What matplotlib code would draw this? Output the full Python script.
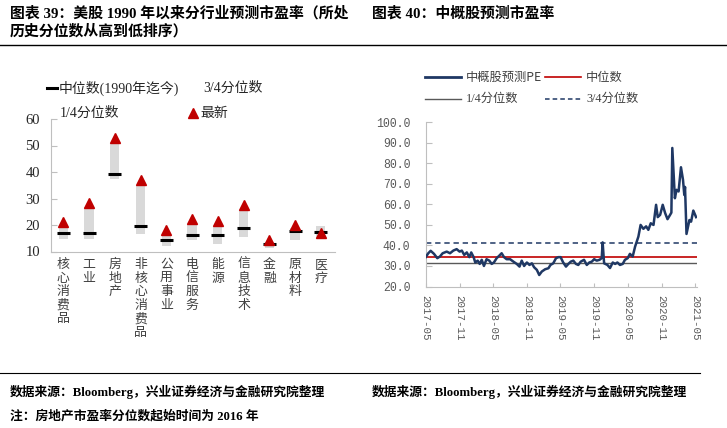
import matplotlib
matplotlib.use("Agg")
import matplotlib.pyplot as plt
from matplotlib.lines import Line2D
import pandas as pd
import numpy as np

plt.rcParams['font.family'] = ['Liberation Serif', 'Noto Sans CJK SC', 'DejaVu Sans']

# ---------------- Left chart data ----------------
categories = ['核心消费品', '工业', '房地产', '非核心消费品', '公用事业', '电信服务',
              '能源', '信息技术', '金融', '原材料', '医疗']
q1_vals = [14.8, 14.8, 37.5, 16.7, 12.0, 14.2, 12.7, 15.4, 11.3, 14.4, 14.8]
q3_vals = [19.8, 26.8, 50.8, 35.0, 16.7, 20.5, 19.8, 25.5, 13.5, 18.9, 19.6]
median_vals = [17.0, 16.8, 39.4, 19.5, 14.3, 16.4, 16.2, 18.7, 12.8, 17.6, 17.2]
latest_vals = [21.3, 28.4, 52.7, 36.9, 18.3, 22.4, 21.5, 27.4, 14.3, 20.0, 16.9]
left_yticks = [10, 20, 30, 40, 50, 60]

# ---------------- Right chart data ----------------
pe_dates = ['2017-05-01', '2017-05-15', '2017-05-28', '2017-06-15', '2017-07-03', '2017-07-17',
            '2017-08-01', '2017-08-23', '2017-09-10', '2017-09-28', '2017-10-16', '2017-11-01',
            '2017-11-13', '2017-11-26', '2017-12-10', '2017-12-24', '2018-01-03', '2018-01-16',
            '2018-01-25', '2018-02-07', '2018-02-18', '2018-03-01', '2018-03-13', '2018-03-27',
            '2018-04-11', '2018-04-24', '2018-05-06', '2018-05-21', '2018-06-04', '2018-06-17',
            '2018-06-30', '2018-07-14', '2018-08-02', '2018-08-20', '2018-09-07', '2018-09-22',
            '2018-10-04', '2018-10-17', '2018-11-01', '2018-11-15', '2018-11-28', '2018-12-10',
            '2018-12-25', '2019-01-07', '2019-01-21', '2019-02-08', '2019-02-26', '2019-03-09',
            '2019-03-24', '2019-04-08', '2019-04-21', '2019-05-03', '2019-05-17', '2019-06-01',
            '2019-06-14', '2019-06-27', '2019-07-11', '2019-07-25', '2019-08-07', '2019-08-20',
            '2019-09-07', '2019-09-22', '2019-10-06', '2019-10-19', '2019-11-01', '2019-11-15',
            '2019-11-30', '2019-12-12', '2019-12-17', '2019-12-25', '2020-01-12', '2020-01-26',
            '2020-02-10', '2020-02-23', '2020-03-06', '2020-03-20', '2020-04-04', '2020-04-16',
            '2020-05-01', '2020-05-13', '2020-05-28', '2020-06-10', '2020-06-28', '2020-07-10',
            '2020-07-25', '2020-08-09', '2020-08-21', '2020-09-03', '2020-09-18', '2020-10-02',
            '2020-10-11', '2020-10-24', '2020-11-07', '2020-11-20', '2020-12-03', '2020-12-17',
            '2020-12-24', '2020-12-29', '2021-01-12', '2021-01-21', '2021-02-01', '2021-02-14',
            '2021-02-25', '2021-03-04', '2021-03-08', '2021-03-16', '2021-04-01', '2021-04-10',
            '2021-04-22', '2021-05-07']
pe_vals = [34.3, 36.2, 37.4, 35.9, 33.8, 34.6,
           36.2, 37.0, 36.2, 37.5, 38.2, 37.0,
           37.5, 35.4, 36.6, 34.3, 36.6, 34.3,
           31.7, 32.6, 31.0, 33.0, 30.0, 33.3,
           32.6, 31.0, 31.7, 33.8, 35.0, 36.2,
           34.3, 33.3, 33.3, 32.1, 31.0, 29.7,
           32.6, 30.0, 31.7, 30.5, 31.3, 29.4,
           28.1, 25.6, 27.3, 28.4, 28.9, 30.5,
           31.3, 33.8, 34.3, 34.3, 31.7, 29.7,
           31.0, 32.1, 32.6, 31.0, 30.5, 32.1,
           33.0, 30.5, 31.7, 32.1, 33.3, 32.6,
           33.0, 33.8, 41.5, 31.3, 30.5, 29.0,
           31.7, 31.0, 31.7, 30.5, 31.0, 33.0,
           33.8, 35.9, 34.6, 39.4, 44.3, 50.0,
           48.1, 49.3, 47.6, 50.8, 50.0, 59.8,
           53.8, 54.9, 59.8, 55.8, 52.8, 54.9,
           56.0, 87.5, 63.0, 67.1, 66.3, 78.1,
           72.0, 64.6, 68.5, 45.6, 52.4, 51.6,
           57.0, 53.8]
pe_median = 34.2
pe_q1 = 31.3
pe_q3 = 41.2
right_yticks = [20, 30, 40, 50, 60, 70, 80, 90, 100]
right_xticks = ['2017-05', '2017-11', '2018-05', '2018-11', '2019-05', '2019-11',
                '2020-05', '2020-11', '2021-05']

W, H = 727, 428
fig = plt.figure(figsize=(W / 100, H / 100), dpi=100)


def fx(px):
    return px / W


def fy(py):
    return 1 - py / H


CJK = ['Noto Sans CJK SC', 'DejaVu Sans']
MIX = ['Liberation Serif', 'Noto Sans CJK SC', 'DejaVu Sans']

# ---------------- Titles / frame ----------------
fig.text(fx(10), fy(13), '图表 39：美股 1990 年以来分行业预测市盈率（所处', fontsize=10.7,
         fontweight='bold', family=MIX, va='center', ha='left', color='black')
fig.text(fx(10), fy(31), '历史分位数从高到低排序）', fontsize=10.7,
         fontweight='bold', family=MIX, va='center', ha='left', color='black')
fig.text(fx(372), fy(13), '图表 40：中概股预测市盈率', fontsize=10.7,
         fontweight='bold', family=MIX, va='center', ha='left', color='black')
fig.add_artist(Line2D([0, 1], [fy(45), fy(45)], transform=fig.transFigure, color='black', lw=1.0))
fig.add_artist(Line2D([0, fx(700)], [fy(373), fy(373)], transform=fig.transFigure, color='black', lw=0.8))

fig.text(fx(10), fy(392), '数据来源：Bloomberg，兴业证券经济与金融研究院整理', fontsize=9.2,
         family=MIX, va='center', ha='left', color='black', fontweight='bold')
fig.text(fx(372), fy(392), '数据来源：Bloomberg，兴业证券经济与金融研究院整理', fontsize=9.2,
         family=MIX, va='center', ha='left', color='black', fontweight='bold')
fig.text(fx(10), fy(416), '注：房地产市盈率分位数起始时间为 2016 年', fontsize=9.2,
         family=MIX, va='center', ha='left', color='black', fontweight='bold')

# ---------------- Left chart ----------------
ax1 = fig.add_axes([fx(51), fy(251.5), fx(335 - 51), (251.5 - 119) / H])
x = np.arange(len(categories))
heights = [b - a for a, b in zip(q1_vals, q3_vals)]
ax1.bar(x, heights, bottom=q1_vals, width=0.36, color='#D9D9D9', zorder=1)
ax1.hlines(median_vals, x - 0.25, x + 0.25, colors='black', lw=2.2, zorder=3)
ax1.plot(x, latest_vals, linestyle='none', marker='^', markersize=7.5,
         color='#C00000', zorder=4)
ax1.set_xlim(-0.48, 10.55)
ax1.set_ylim(10, 60)
ax1.set_yticks(left_yticks)
ax1.set_yticklabels([str(v) for v in left_yticks], fontsize=10.5, family=MIX, color='#262626')
ax1.tick_params(axis='y', direction='in', length=4, color='#BFBFBF', pad=8)
ax1.set_xticks([])
for s in ['top', 'right']:
    ax1.spines[s].set_visible(False)
for s in ['left', 'bottom']:
    ax1.spines[s].set_color('#BFBFBF')
    ax1.spines[s].set_linewidth(0.8)

for i, c in enumerate(categories):
    ax1.text(i, -0.05, '\n'.join(list(c)), transform=ax1.get_xaxis_transform(),
             ha='center', va='top', fontsize=9.3, family=CJK, color='#404040',
             linespacing=1.05)

# left legend (manual)
fig.add_artist(Line2D([fx(47), fx(57)], [fy(88), fy(88)], transform=fig.transFigure,
                      color='black', lw=2.2))
fig.text(fx(59), fy(88), '中位数(1990年迄今)', fontsize=10, family=MIX, va='center',
         ha='left', color='#262626')
fig.text(fx(203), fy(88), '3/4分位数', fontsize=10, family=MIX, va='center',
         ha='left', color='#262626')
fig.text(fx(60), fy(113), '1/4分位数', fontsize=10, family=MIX, va='center',
         ha='left', color='#262626')
fig.add_artist(Line2D([fx(193)], [fy(113)], transform=fig.transFigure, marker='^',
                      markersize=7.5, color='#C00000', linestyle='none'))
fig.text(fx(200), fy(113), '最新', fontsize=10, family=MIX, va='center',
         ha='left', color='#262626')

# ---------------- Right chart ----------------
ax2 = fig.add_axes([fx(425.7), fy(286.5), fx(697 - 425.7), (286.5 - 122.3) / H])
dates = pd.to_datetime(pe_dates)
ax2.plot(dates, pe_vals, color='#1F3864', lw=1.8, zorder=4)
ax2.axhline(pe_median, color='#C00000', lw=1.2, zorder=3)
ax2.axhline(pe_q1, color='#595959', lw=1.0, zorder=2)
ax2.axhline(pe_q3, color='#1F3864', lw=1.1, ls=(0, (3.5, 2.5)), zorder=2)
ax2.set_xlim(pd.Timestamp('2017-05-01'), pd.Timestamp('2021-05-12'))
ax2.set_ylim(20, 100)
ax2.set_yticks(right_yticks)
ax2.set_yticklabels(['%.1f' % v for v in right_yticks], fontsize=8.3,
                    family=['Liberation Mono'], color='#595959')
xt = pd.to_datetime([t + '-01' for t in right_xticks])
ax2.set_xticks(xt)
ax2.set_xticklabels(right_xticks, rotation=270, fontsize=7.8, family=['Liberation Mono'],
                    color='#595959')
ax2.tick_params(axis='y', direction='in', length=4, color='#BFBFBF', pad=11)
ax2.tick_params(axis='x', direction='in', length=3, color='#BFBFBF', pad=6)
for s in ['top', 'right']:
    ax2.spines[s].set_visible(False)
for s in ['left', 'bottom']:
    ax2.spines[s].set_color('#BFBFBF')
    ax2.spines[s].set_linewidth(0.8)


# right legend (manual)
def leg_line(x0, x1, y, **kw):
    fig.add_artist(Line2D([fx(x0), fx(x1)], [fy(y), fy(y)], transform=fig.transFigure, **kw))


leg_line(425, 461, 77, color='#1F3864', lw=2.0)
fig.text(fx(466), fy(77), '中概股预测PE', fontsize=8.8, family=CJK, va='center', ha='left',
         color='#404040')
leg_line(545, 581, 77, color='#C00000', lw=1.2)
fig.text(fx(586), fy(77), '中位数', fontsize=8.8, family=CJK, va='center', ha='left',
         color='#404040')
leg_line(425, 461, 99, color='#595959', lw=1.0)
fig.text(fx(466), fy(99), '1/4分位数', fontsize=8.8, family=MIX, va='center', ha='left',
         color='#404040')
leg_line(545, 581, 99, color='#1F3864', lw=1.1, ls=(0, (3, 2)))
fig.text(fx(586), fy(99), '3/4分位数', fontsize=8.8, family=MIX, va='center', ha='left',
         color='#404040')

fig.savefig('out.png', dpi=100)
